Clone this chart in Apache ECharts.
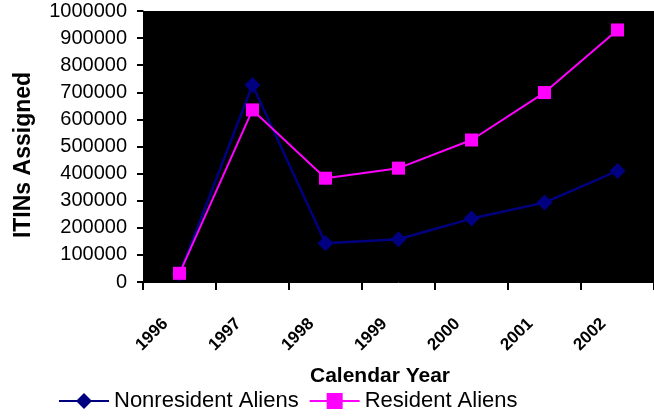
<!DOCTYPE html>
<html>
<head>
<meta charset="utf-8">
<script src="https://cdn.jsdelivr.net/npm/echarts@6/dist/echarts.min.js"></script>
<style>
html,body{margin:0;padding:0;background:#fff;}
#chart{width:654px;height:417px;}
</style>
</head>
<body>
<div id="chart"></div>
<script>
const categories = ['1996', '1997', '1998', '1999', '2000', '2001', '2002'];
const nonresidentAliens = [30000, 727000, 143000, 158000, 234000, 293000, 410000];
const residentAliens = [32000, 635000, 383000, 420000, 524000, 699000, 930000];
const yMin = 0;
const yMax = 1000000;
const yStep = 100000;

const chart = echarts.init(document.getElementById('chart'), null, {renderer: 'canvas'});
chart.setOption({
  animation: false,
  backgroundColor: '#ffffff',
  grid: {
    left: 143, top: 11, width: 516, height: 271,
    show: true, backgroundColor: '#000000', borderWidth: 0
  },
  legend: {
    left: 53, top: 385,
    itemWidth: 50, itemHeight: 20, itemGap: 10,
    textStyle: {fontFamily: 'Liberation Sans, Arial, sans-serif', fontSize: 22, color: '#000'},
    data: ['Nonresident Aliens', 'Resident Aliens']
  },
  xAxis: {
    type: 'category',
    data: categories,
    boundaryGap: true,
    name: 'Calendar Year',
    nameLocation: 'middle',
    nameGap: 84,
    nameTextStyle: {fontFamily: 'Liberation Sans, Arial, sans-serif', fontSize: 21, fontWeight: 'bold', color: '#000', padding: [0, 37, 0, 0]},
    axisLine: {show: true, lineStyle: {color: '#000', width: 1}},
    axisTick: {show: true, length: 8, alignWithLabel: false, lineStyle: {color: '#000', width: 2}},
    axisLabel: {
      rotate: 45, margin: 25, interval: 0,
      padding: [0, 20, 0, 0],
      fontFamily: 'Liberation Sans, Arial, sans-serif', fontSize: 17, fontWeight: 'bold', color: '#000'
    },
    splitLine: {show: false}
  },
  yAxis: {
    type: 'value',
    min: yMin, max: yMax, interval: yStep,
    name: 'ITINs Assigned',
    nameLocation: 'middle',
    nameGap: 108,
    nameRotate: 90,
    nameTextStyle: {fontFamily: 'Liberation Sans, Arial, sans-serif', fontSize: 23, fontWeight: 'bold', color: '#000', padding: [0, 17, 0, 0]},
    axisLine: {show: true, lineStyle: {color: '#000', width: 1}},
    axisTick: {show: true, length: 6, lineStyle: {color: '#000', width: 2}},
    axisLabel: {
      margin: 16,
      formatter: v => String(v),
      fontFamily: 'Liberation Sans, Arial, sans-serif', fontSize: 20, color: '#000'
    },
    splitLine: {show: false}
  },
  series: [
    {
      name: 'Nonresident Aliens',
      type: 'line',
      data: nonresidentAliens,
      symbol: 'diamond',
      symbolSize: 16,
      showAllSymbol: true,
      lineStyle: {color: '#000080', width: 2.5},
      itemStyle: {color: '#000080', borderWidth: 0}
    },
    {
      name: 'Resident Aliens',
      type: 'line',
      data: residentAliens,
      symbol: 'rect',
      symbolSize: 13,
      showAllSymbol: true,
      lineStyle: {color: '#ff00ff', width: 2},
      itemStyle: {color: '#ff00ff', borderWidth: 0}
    }
  ]
});
</script>
</body>
</html>
